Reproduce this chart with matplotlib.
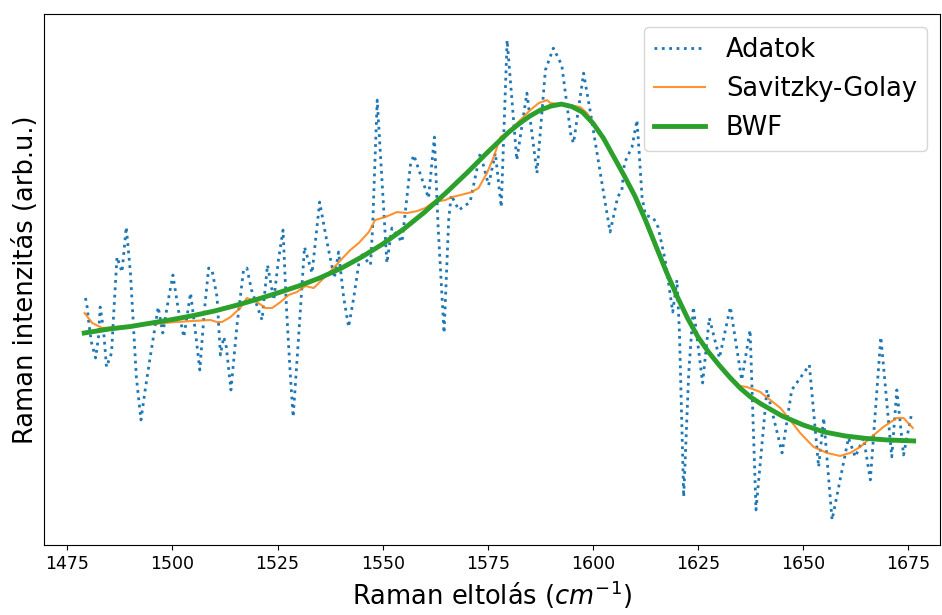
import numpy as np
import matplotlib
matplotlib.use("Agg")
import matplotlib.pyplot as plt

# measured spectrum (Raman shift in cm^-1, intensity in arb. units)
shift = [1479.3, 1479.7, 1480.1, 1480.7, 1481.7, 1482.4, 1482.8, 1483.6, 1484.3, 1485.5,
         1486.2, 1486.8, 1488.0, 1489.0, 1490.0, 1490.8, 1491.4, 1492.5, 1493.5, 1494.7,
         1496.6, 1497.7, 1499.0, 1500.1, 1501.4, 1502.7, 1504.3, 1505.4, 1506.5, 1507.6,
         1508.6, 1509.4, 1510.6, 1511.4, 1512.2, 1512.8, 1513.9, 1515.4, 1516.9, 1517.7,
         1518.8, 1521.3, 1522.6, 1524.1, 1525.2, 1526.3, 1527.1, 1528.0, 1528.7, 1530.0,
         1531.4, 1533.2, 1535.0, 1536.8, 1538.5, 1539.5, 1540.7, 1541.9, 1543.1, 1544.7,
         1547.1, 1547.6, 1548.1, 1548.7, 1549.8, 1551.0, 1552.2, 1554.6, 1556.6, 1557.4,
         1560.9, 1562.3, 1563.2, 1564.6, 1565.7, 1566.3, 1568.1, 1570.8, 1573.2, 1575.2,
         1576.8, 1578.2, 1579.6, 1581.9, 1584.3, 1586.7, 1588.7, 1590.6, 1592.6, 1594.8,
         1595.4, 1597.8, 1599.4, 1602.7, 1604.1, 1605.9, 1606.9, 1607.5, 1609.3, 1610.5,
         1611.7, 1612.5, 1614.4, 1615.5, 1617.2, 1619.0, 1620.0, 1620.6, 1621.6, 1622.8,
         1623.9, 1626.1, 1627.7, 1630.1, 1632.7, 1635.4, 1637.4, 1638.8, 1641.4, 1645.0,
         1647.3, 1651.5, 1653.7, 1654.9, 1656.9, 1660.8, 1662.4, 1664.4, 1666.0, 1668.5,
         1671.1, 1672.3, 1673.9, 1675.9]
data = [302, 293, 277, 258, 242, 263, 293, 270, 233, 247,
        300, 343, 328, 373, 327, 267, 223, 180, 210, 243,
        293, 267, 300, 325, 290, 263, 307, 270, 230, 290,
        332, 330, 303, 245, 263, 253, 210, 277, 330, 332,
        310, 280, 335, 300, 340, 370, 293, 227, 183, 263,
        353, 327, 398, 357, 322, 348, 303, 273, 302, 347,
        335, 372, 432, 500, 422, 337, 372, 358, 435, 445,
        402, 463, 372, 267, 380, 405, 390, 398, 447, 415,
        447, 393, 560, 440, 507, 427, 530, 552, 535, 464,
        457, 527, 488, 403, 368, 403, 410, 437, 453, 480,
        403, 385, 382, 373, 340, 288, 320, 267, 103, 227,
        293, 217, 282, 242, 293, 220, 270, 90, 210, 147,
        210, 235, 133, 182, 80, 162, 143, 162, 120, 263,
        143, 210, 145, 188]

# Savitzky-Golay smoothed curve
sg_shift = [1479.1, 1480.9, 1483.3, 1492.8, 1500.7, 1509.0, 1510.6, 1511.8, 1513.8, 1516.1,
            1517.7, 1520.1, 1522.1, 1523.7, 1525.7, 1527.6, 1529.6, 1531.6, 1533.6, 1536.0,
            1538.3, 1540.7, 1542.3, 1544.3, 1546.7, 1548.2, 1550.6, 1553.4, 1555.8, 1558.2,
            1560.1, 1562.1, 1564.9, 1566.5, 1568.5, 1571.2, 1572.8, 1574.8, 1576.4, 1578.0,
            1580.4, 1582.7, 1585.1, 1587.1, 1589.1, 1589.9, 1592.2, 1594.6, 1597.0, 1598.6,
            1601.0, 1603.3, 1605.8, 1608.0, 1610.0, 1612.5, 1615.0, 1617.5, 1620.0, 1622.5,
            1625.0, 1627.5, 1630.0, 1632.5, 1635.0, 1636.6, 1638.6, 1639.8, 1642.2, 1644.6,
            1646.9, 1649.3, 1652.5, 1655.7, 1658.8, 1661.2, 1663.6, 1666.0, 1669.1, 1672.3,
            1673.9, 1676.1]
sg = [287, 277, 272, 275, 278, 280, 278, 278, 283, 292,
      302, 298, 292, 292, 298, 305, 308, 314, 312, 322,
      332, 343, 350, 357, 368, 380, 383, 388, 387, 389,
      392, 398, 400, 403, 405, 408, 412, 427, 443, 463,
      470, 480, 490, 497, 500, 497, 496, 495, 493, 487,
      472, 455, 438, 420, 403, 378, 351, 326, 302, 281,
      263, 248, 235, 224, 214, 213, 210, 208, 200, 192,
      180, 167, 153, 147, 144, 147, 153, 162, 173, 182,
      182, 172]

# BWF fit
bwf_shift = [1479.0, 1485.0, 1490.0, 1495.0, 1500.0, 1505.0, 1510.0, 1515.0, 1520.0, 1525.0,
             1530.0, 1535.0, 1540.0, 1545.0, 1550.0, 1555.0, 1560.0, 1565.0, 1570.0, 1575.0,
             1580.0, 1582.5, 1585.0, 1587.5, 1590.0, 1592.5, 1595.0, 1597.5, 1600.0, 1602.5,
             1605.0, 1607.5, 1610.0, 1612.5, 1615.0, 1617.5, 1620.0, 1622.5, 1625.0, 1627.5,
             1630.0, 1632.5, 1635.0, 1637.5, 1640.0, 1645.0, 1650.0, 1655.0, 1660.0, 1665.0,
             1670.0, 1676.3]
bwf = [267, 271, 273.5, 277, 280.5, 284.5, 289, 294.5, 300.5, 307,
       314, 322, 331.5, 343, 356, 371, 388, 407, 427, 448,
       468, 476.5, 484, 490, 494, 496, 493.5, 488, 477, 462,
       443, 424, 404, 380, 354, 328, 304, 282, 263, 248,
       235, 223, 212, 203, 196, 184, 175, 168, 164, 161.5,
       160, 159]

fig = plt.figure(figsize=(9.42, 6.15), dpi=100)
ax = fig.add_axes([0.047, 0.114, 0.951, 0.863])

ax.plot(shift, data, ':', color='#1f77b4', lw=2, label='Adatok')
ax.plot(sg_shift, sg, '-', color='#ff7f0e', lw=1.5, alpha=0.85, label='Savitzky-Golay')
ax.plot(bwf_shift, bwf, '-', color='#2ca02c', lw=3.5, label='BWF')

ax.set_xlim(1469.5, 1682.6)
ax.set_ylim(55, 586)
ax.set_xticks([1475, 1500, 1525, 1550, 1575, 1600, 1625, 1650, 1675])
ax.set_yticks([])
ax.tick_params(axis='x', labelsize=12.5)
ax.set_xlabel('Raman eltolás ($cm^{-1}$)', fontsize=18.5)
ax.set_ylabel('Raman intenzitás (arb.u.)', fontsize=18.5)
ax.legend(loc='upper right', fontsize=18.5)

fig.savefig('out.png', dpi=100)
